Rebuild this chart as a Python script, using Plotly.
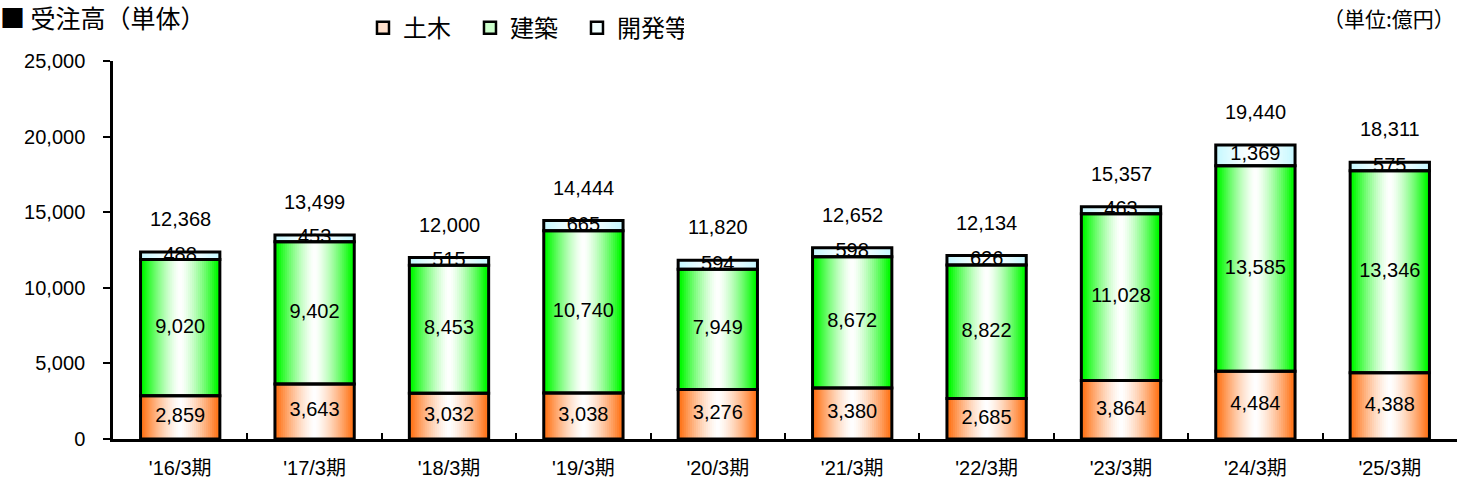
import plotly.graph_objects as go

# === Data (億円) ===
periods = ["'16/3期", "'17/3期", "'18/3期", "'19/3期", "'20/3期",
           "'21/3期", "'22/3期", "'23/3期", "'24/3期", "'25/3期"]
civil = [2859, 3643, 3032, 3038, 3276, 3380, 2685, 3864, 4484, 4388]
building = [9020, 9402, 8453, 10740, 7949, 8672, 8822, 11028, 13585, 13346]
development = [488, 453, 515, 665, 594, 598, 626, 463, 1369, 575]
totals = [12368, 13499, 12000, 14444, 11820, 12652, 12134, 15357, 19440, 18311]

series_names = ["土木", "建築", "開発等"]
series_values = [civil, building, development]
edge_colors = [(255, 118, 28), (0, 250, 0), (200, 248, 255)]
legend_fill = ["#FFE0CC", "#CCFFCC", "#F0FFFF"]

FONT = "Liberation Sans, Noto Sans CJK JP, sans-serif"
CJK = "Noto Sans CJK JP, sans-serif"
BAR_W = 0.59
STEPS = 20

# bases of stacked segments
bases = [[0] * len(periods),
         civil[:],
         [c + b for c, b in zip(civil, building)]]

fig = go.Figure()


def mix(rgb, t):
    # t=1 -> edge colour, t=0 -> white
    r, g, b = (round(255 + (c - 255) * t) for c in rgb)
    return f"rgb({r},{g},{b})"


# gradient fill: narrower and whiter bars laid on top of each other
for name, vals, base, rgb in zip(series_names, series_values, bases, edge_colors):
    for k in range(STEPS):
        w = BAR_W * (1 - k / STEPS)
        f = 1 - (k + 0.5) / STEPS
        t = 1.0 if k == 0 else min(1.0, f ** 1.4 * 1.1)
        fig.add_trace(go.Bar(
            x=periods, y=vals, base=base, width=w,
            marker=dict(color=mix(rgb, t), line=dict(width=0)),
            showlegend=False, hoverinfo="skip"
        ))

# black outlines
for name, vals, base in zip(series_names, series_values, bases):
    fig.add_trace(go.Bar(
        x=periods, y=vals, base=base, width=BAR_W, name=name,
        marker=dict(color="rgba(0,0,0,0)", line=dict(color="black", width=3)),
        showlegend=False
    ))

# segment labels
for vals, base in zip(series_values, bases):
    fig.add_trace(go.Scatter(
        x=periods, y=[b + v / 2 for b, v in zip(base, vals)],
        mode="text", text=[f"{v:,}" for v in vals],
        textfont=dict(size=20, color="black", family=FONT),
        showlegend=False, hoverinfo="skip"
    ))

# legend entries
for name, fill in zip(series_names, legend_fill):
    fig.add_trace(go.Scatter(
        x=[None], y=[None], mode="markers", name=name,
        marker=dict(symbol="square", size=12, color=fill,
                    line=dict(color="black", width=2.5))
    ))

# totals above bars
for p, tot in zip(periods, totals):
    fig.add_annotation(x=p, y=tot, text=f"{tot:,}", showarrow=False,
                       yanchor="bottom", yshift=20,
                       font=dict(size=20, color="black", family=FONT))

fig.add_annotation(xref="paper", yref="paper", x=1, y=1, xanchor="right",
                   yanchor="middle", yshift=43, showarrow=False,
                   text="（単位:億円）",
                   font=dict(size=21, color="black", family=CJK))

fig.update_layout(
    width=1458, height=480,
    barmode="overlay",
    plot_bgcolor="white", paper_bgcolor="white",
    font=dict(family=FONT, size=20, color="black"),
    margin=dict(l=113, r=1, t=61, b=38),
    title=dict(text="■ 受注高（単体）", x=0.0, xref="container", xanchor="left",
               y=0.96, yref="container", yanchor="middle",
               font=dict(size=25, color="black", family=CJK)),
    legend=dict(orientation="h", x=0.186, xanchor="left", y=1.087,
                yanchor="middle", entrywidth=62, entrywidthmode="pixels",
                font=dict(size=24, family=CJK), bgcolor="rgba(0,0,0,0)"),
    xaxis=dict(type="category", showline=True, linecolor="black", linewidth=2.5,
               ticks="inside", tickson="boundaries", ticklen=6, tickwidth=2,
               tickcolor="black", ticklabelstandoff=9,
               tickfont=dict(size=20, family=FONT)),
    yaxis=dict(range=[0, 25000], dtick=5000, tickformat=",", showline=True,
               linecolor="black", linewidth=2.5, ticks="outside", ticklen=7,
               tickwidth=2, tickcolor="black", showgrid=False, zeroline=False,
               ticklabelstandoff=14, tickfont=dict(size=20, family=FONT)),
)

# page has a default body margin; drop it so the figure sits at the corner
fig.write_html("out.html", config={"displayModeBar": False},
               post_script="document.body.style.margin='0';")
